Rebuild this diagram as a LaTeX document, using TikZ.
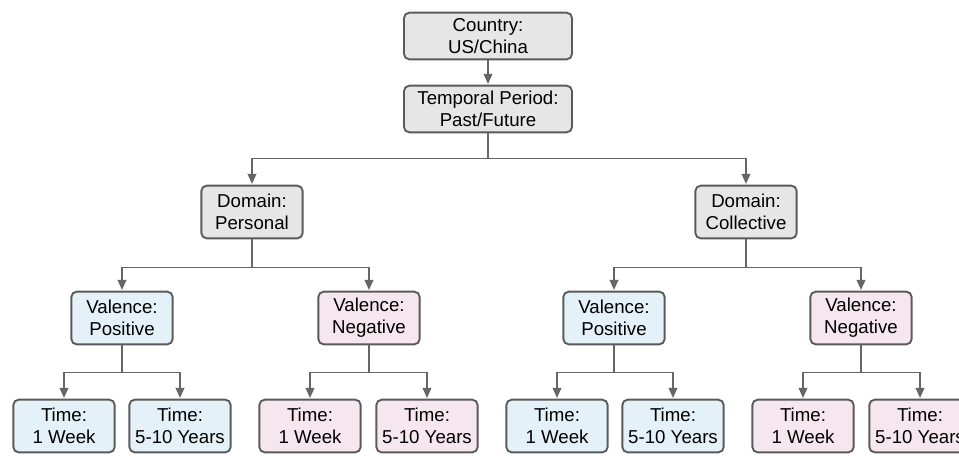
\documentclass[tikz,border=0pt]{standalone}
\usepackage{fontspec}
\setmainfont{Liberation Sans}
\usetikzlibrary{arrows.meta}

\definecolor{boxgray}{HTML}{E6E6E6}
\definecolor{boxblue}{HTML}{E4F1F8}
\definecolor{boxpink}{HTML}{F6E6EE}
\definecolor{edgegray}{HTML}{5A5A5A}
\definecolor{linegray}{HTML}{666666}

\begin{document}
\begin{tikzpicture}[x = 0.75pt, y = -0.75pt,
    box/.style = {draw = edgegray, line width = 1.4pt, rounded corners = 4pt, align = center,
        inner sep = 1pt, font = \fontsize{14}{16.5}\selectfont},
    widebox/.style = {box, fill = boxgray, minimum width = 126pt, minimum height = 35pt},
    smallbox/.style = {box, minimum width = 76pt, minimum height = 39.5pt},
    neutralbox/.style = {smallbox, fill = boxgray},
    posbox/.style = {smallbox, fill = boxblue},
    negbox/.style = {smallbox, fill = boxpink},
    link/.style = {draw = linegray, line width = 1.1pt, shorten > = 0.6pt,
        -{Triangle[length = 7.5pt, width = 6.5pt]}}]
    \useasboundingbox (0,0) rectangle (959,455);

    % top of the tree
    \node[widebox] (country) at (488,36) {Country:\\US/China};
    \node[widebox] (period) at (488,109) {Temporal Period:\\Past/Future};

    % domains
    \node[neutralbox] (personal) at (252,212) {Domain:\\Personal};
    \node[neutralbox] (collective) at (746,212) {Domain:\\Collective};

    % valences
    \node[posbox] (perpos) at (122,318) {Valence:\\Positive};
    \node[negbox] (perneg) at (369,318) {Valence:\\Negative};
    \node[posbox] (colpos) at (614,318) {Valence:\\Positive};
    \node[negbox] (colneg) at (861,318) {Valence:\\Negative};

    % time frames
    \node[posbox] (perposweek) at (64,426) {Time:\\1 Week};
    \node[posbox] (perposyears) at (180,426) {Time:\\5-10 Years};
    \node[negbox] (pernegweek) at (310,426) {Time:\\1 Week};
    \node[negbox] (pernegyears) at (427,426) {Time:\\5-10 Years};
    \node[posbox] (colposweek) at (557,426) {Time:\\1 Week};
    \node[posbox] (colposyears) at (673,426) {Time:\\5-10 Years};
    \node[negbox] (colnegweek) at (803,426) {Time:\\1 Week};
    \node[negbox] (colnegyears) at (920,426) {Time:\\5-10 Years};

    \draw[link] (country) -- (period);
    \draw[link] (period.south) -- ++(0,25) -| (personal.north);
    \draw[link] (period.south) -- ++(0,25) -| (collective.north);
    \draw[link] (personal.south) -- ++(0,28) -| (perpos.north);
    \draw[link] (personal.south) -- ++(0,28) -| (perneg.north);
    \draw[link] (collective.south) -- ++(0,28) -| (colpos.north);
    \draw[link] (collective.south) -- ++(0,28) -| (colneg.north);
    \draw[link] (perpos.south) -- ++(0,27) -| (perposweek.north);
    \draw[link] (perpos.south) -- ++(0,27) -| (perposyears.north);
    \draw[link] (perneg.south) -- ++(0,27) -| (pernegweek.north);
    \draw[link] (perneg.south) -- ++(0,27) -| (pernegyears.north);
    \draw[link] (colpos.south) -- ++(0,27) -| (colposweek.north);
    \draw[link] (colpos.south) -- ++(0,27) -| (colposyears.north);
    \draw[link] (colneg.south) -- ++(0,27) -| (colnegweek.north);
    \draw[link] (colneg.south) -- ++(0,27) -| (colnegyears.north);
\end{tikzpicture}
\end{document}
